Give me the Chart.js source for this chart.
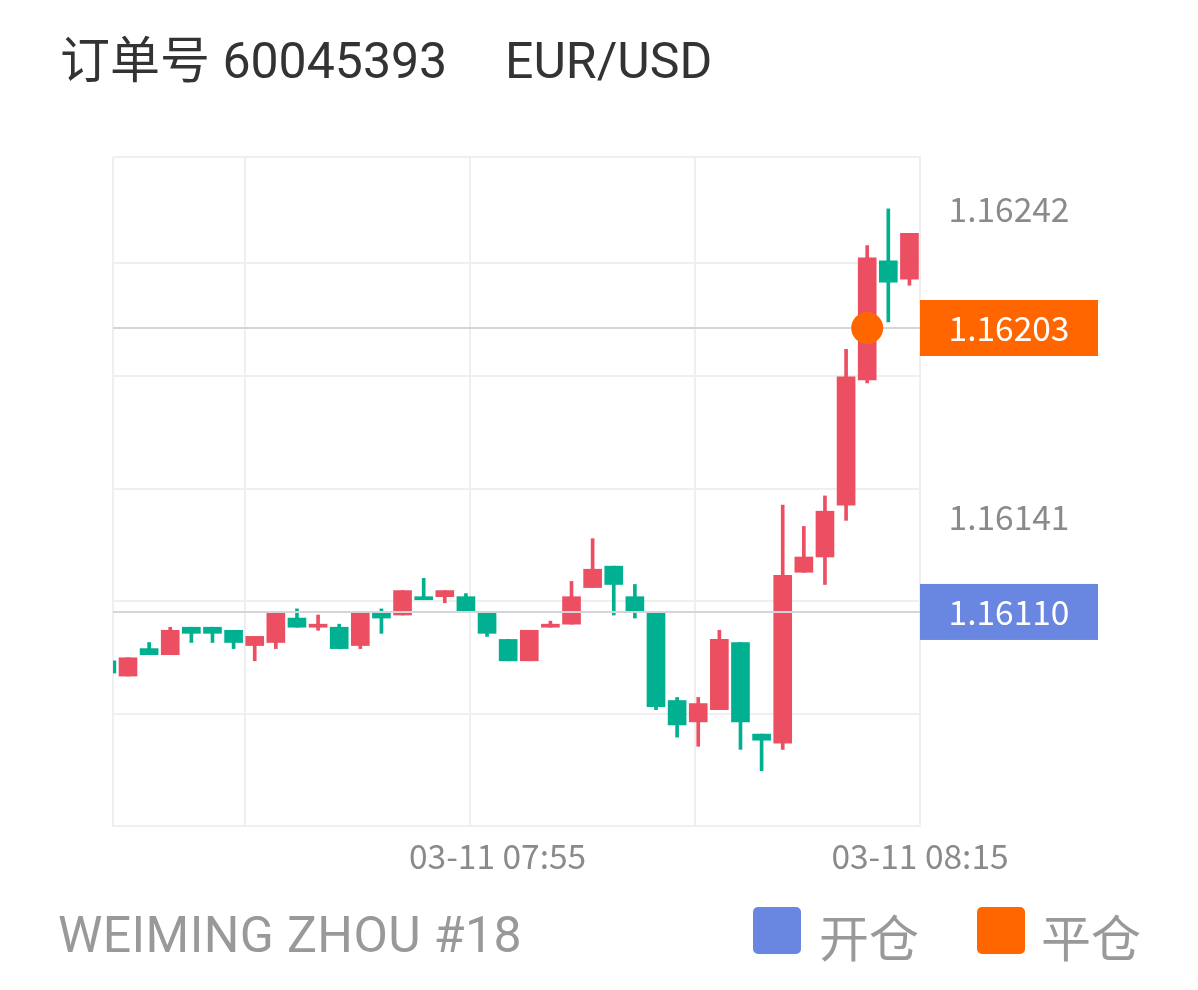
<!DOCTYPE html>
<html>
<head>
<meta charset="utf-8">
<script src="https://cdn.jsdelivr.net/npm/chart.js@4/dist/chart.umd.min.js"></script>
<style>
  body { margin: 0; background: #fff; }
  .wrap { position: relative; width: 1198px; height: 990px; overflow: hidden; }
  #chart { position: absolute; left: 0; top: 0; }
  .txt { position: absolute; white-space: nowrap; line-height: 50px; font-size: 50px;
         font-family: Roboto, 'Noto Sans CJK SC', sans-serif; }
  .title { color: #333; top: 36px; }
  .foot { color: #999; top: 910px; }
  .sq { position: absolute; width: 48px; height: 47px; border-radius: 5px; top: 907px; }
</style>
</head>
<body>
<div class="wrap">
  <canvas id="chart" width="1198" height="990"></canvas>
  <div class="txt title" style="left:60px">订单号 60045393</div>
  <div class="txt title" style="left:505px">EUR/USD</div>
  <div class="txt foot" style="left:58px;letter-spacing:0.4px">WEIMING ZHOU #18</div>
  <div class="sq" style="left:753px;background:#6987e0"></div>
  <div class="txt foot" style="left:819px;font-family:'Noto Sans CJK SC'">开仓</div>
  <div class="sq" style="left:977px;background:#ff6600"></div>
  <div class="txt foot" style="left:1041px;font-family:'Noto Sans CJK SC'">平仓</div>
</div>
<script>
// one-minute candles, 03-11
const times = ['07:36', '07:37', '07:38', '07:39', '07:40', '07:41', '07:42', '07:43', '07:44', '07:45',
    '07:46', '07:47', '07:48', '07:49', '07:50', '07:51', '07:52', '07:53', '07:54', '07:55',
    '07:56', '07:57', '07:58', '07:59', '08:00', '08:01', '08:02', '08:03', '08:04', '08:05',
    '08:06', '08:07', '08:08', '08:09', '08:10', '08:11', '08:12', '08:13', '08:14'];
const opens = [1.16094, 1.16089, 1.16098, 1.16096, 1.16105, 1.16105, 1.16104, 1.16099, 1.16100, 1.16108,
    1.16105, 1.16105, 1.16099, 1.16110, 1.16109, 1.16115, 1.16115, 1.16115, 1.16110, 1.16101,
    1.16094, 1.16105, 1.16106, 1.16118, 1.16125, 1.16115, 1.16110, 1.16081, 1.16074, 1.16078,
    1.16100, 1.16070, 1.16067, 1.16123, 1.16128, 1.16145, 1.16186, 1.16225, 1.16219];
const highs = [1.16094, 1.16095, 1.16100, 1.16105, 1.16105, 1.16105, 1.16104, 1.16102, 1.16110, 1.16111,
    1.16109, 1.16106, 1.16110, 1.16111, 1.16117, 1.16121, 1.16117, 1.16116, 1.16110, 1.16101,
    1.16104, 1.16107, 1.16120, 1.16134, 1.16125, 1.16119, 1.16110, 1.16082, 1.16082, 1.16104,
    1.16100, 1.16070, 1.16145, 1.16138, 1.16148, 1.16196, 1.16230, 1.16242, 1.16234];
const lows = [1.16090, 1.16089, 1.16096, 1.16096, 1.16100, 1.16100, 1.16098, 1.16094, 1.16098, 1.16105,
    1.16104, 1.16098, 1.16098, 1.16103, 1.16109, 1.16114, 1.16113, 1.16110, 1.16102, 1.16094,
    1.16094, 1.16105, 1.16106, 1.16118, 1.16109, 1.16108, 1.16078, 1.16069, 1.16066, 1.16078,
    1.16065, 1.16058, 1.16065, 1.16123, 1.16119, 1.16140, 1.16185, 1.16205, 1.16217];
const closes = [1.16090, 1.16095, 1.16096, 1.16104, 1.16103, 1.16103, 1.16100, 1.16102, 1.16110, 1.16105,
    1.16106, 1.16098, 1.16110, 1.16108, 1.16117, 1.16114, 1.16117, 1.16110, 1.16103, 1.16094,
    1.16104, 1.16106, 1.16115, 1.16124, 1.16119, 1.16110, 1.16079, 1.16073, 1.16080, 1.16101,
    1.16074, 1.16068, 1.16122, 1.16128, 1.16143, 1.16187, 1.16226, 1.16218, 1.16234];

const openPrice = 1.16110;
const closePrice = 1.16203;
const closeTime = '08:12';
const sideLabels = [1.16242, 1.16141];

// axis window (minutes from 07:55) and grid positions
const xMin = -18.21, xMax = 20;
const xGrid = [-11.96, -1.31, 9.35];
const xLabels = { 0: '03-11 07:55', 20: '03-11 08:15' };
const yMin = 1.160399, yMax = 1.16259;
const yGrid = [1.160766, 1.161136, 1.161503, 1.161873, 1.162243];

const UP = '#ec4f61';
const DOWN = '#00b090';
const LINE = '#d5d5d9';
const GRID = '#efefef';

function pos(t) {
    const [h, m] = t.split(':').map(Number);
    return (h * 60 + m) - (7 * 60 + 55) + 0.5;
}
const colors = opens.map((o, i) => (closes[i] >= o ? UP : DOWN));

const sideLabelPlugin = {
    id: 'sideLabels',
    afterDraw(chart) {
        const { ctx, chartArea, scales } = chart;
        const x0 = chartArea.right;
        const w = 178;
        const cx = x0 + w / 2;
        ctx.save();
        ctx.font = '33.5px "Noto Sans CJK SC"';
        ctx.textAlign = 'center';
        ctx.textBaseline = 'middle';
        ctx.fillStyle = '#8a8a8a';
        sideLabels.forEach((v) => {
            ctx.fillText(v.toFixed(5), cx, scales.y.getPixelForValue(v));
        });
        [[closePrice, '#ff6600'], [openPrice, '#6987e0']].forEach(([v, c]) => {
            const y = scales.y.getPixelForValue(v);
            ctx.fillStyle = c;
            ctx.fillRect(x0, y - 28, w, 56);
            ctx.fillStyle = '#fff';
            ctx.fillText(v.toFixed(5), cx, y);
        });
        ctx.restore();
    },
};

new Chart(document.getElementById('chart'), {
    type: 'bar',
    data: {
        datasets: [
            {
                type: 'line',
                data: [{ x: xMin, y: openPrice }, { x: xMax, y: openPrice }],
                borderColor: LINE,
                borderWidth: 2,
                pointRadius: 0,
                order: 1,
            },
            {
                type: 'line',
                data: [{ x: xMin, y: closePrice }, { x: xMax, y: closePrice }],
                borderColor: LINE,
                borderWidth: 2,
                pointRadius: 0,
                order: 1,
            },
            {
                type: 'line',
                data: [{ x: pos(closeTime), y: closePrice }],
                showLine: false,
                pointRadius: 16,
                pointBorderWidth: 0,
                pointBackgroundColor: '#ff6600',
                order: 0,
            },
            {
                data: times.map((t, i) => ({ x: pos(t), y: [opens[i], closes[i]] })),
                backgroundColor: colors,
                barThickness: 18,
                minBarLength: 2,
                grouped: false,
                clip: 0,
                order: 2,
            },
            {
                data: times.map((t, i) => ({ x: pos(t), y: [lows[i], highs[i]] })),
                backgroundColor: colors,
                barThickness: 3,
                grouped: false,
                clip: 0,
                order: 3,
            },
        ],
    },
    options: {
        responsive: false,
        animation: false,
        layout: { padding: { left: 113, top: 157, right: 100, bottom: 104 } },
        plugins: {
            legend: { display: false },
            tooltip: { enabled: false },
        },
        scales: {
            x: {
                type: 'linear',
                offset: false,
                min: xMin,
                max: xMax,
                afterBuildTicks: (axis) => {
                    axis.ticks = [xMin, ...xGrid, 0, xMax].sort((a, b) => a - b).map((v) => ({ value: v }));
                },
                afterFit: (axis) => {
                    axis.height = 60;
                },
                grid: {
                    offset: false,
                    color: (c) => (c.tick && c.tick.value === 0 ? 'rgba(0,0,0,0)' : GRID),
                    lineWidth: 2,
                    drawTicks: false,
                },
                border: { color: GRID, width: 2 },
                ticks: {
                    autoSkip: false,
                    maxRotation: 0,
                    padding: 10,
                    color: '#8a8a8a',
                    font: { family: 'Noto Sans CJK SC', size: 33.5 },
                    callback: (v) => xLabels[v] || '',
                },
            },
            y: {
                type: 'linear',
                position: 'right',
                min: yMin,
                max: yMax,
                afterBuildTicks: (axis) => {
                    axis.ticks = [yMin, ...yGrid, yMax].map((v) => ({ value: v }));
                },
                afterFit: (axis) => {
                    axis.width = 178;
                },
                grid: { color: GRID, lineWidth: 2, drawTicks: false },
                border: { color: GRID, width: 2 },
                ticks: { display: false },
            },
        },
    },
    plugins: [sideLabelPlugin],
});
</script>
</body>
</html>
